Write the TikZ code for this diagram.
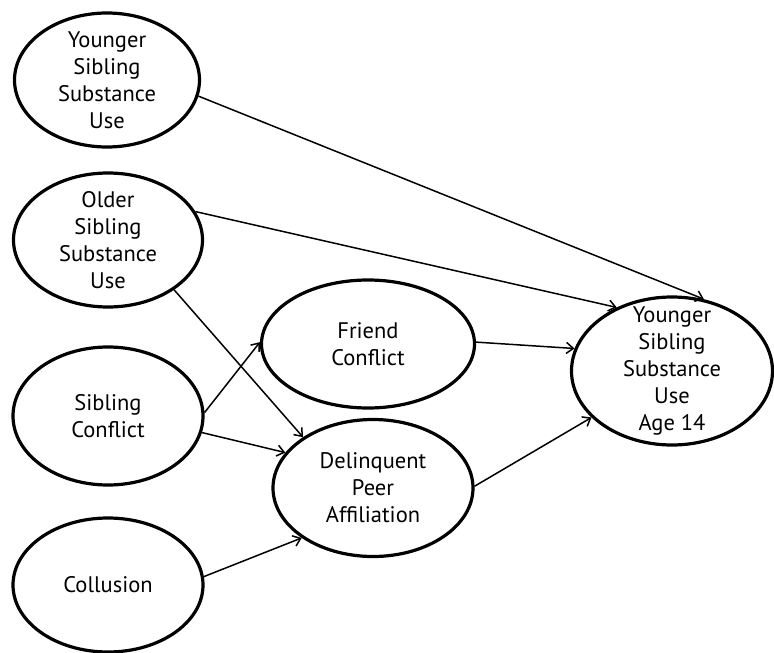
\documentclass[tikz,border=0pt]{standalone}
\usepackage{fontspec}
\setmainfont{PT Sans}
\usepackage{tikz}
\usetikzlibrary{arrows.meta,shapes.geometric}

\begin{document}
\begin{tikzpicture}[
  x=1pt, y=-1pt,
  >={Straight Barb[length=7pt,width=11pt]},
  every node/.style={font=\fontsize{22.5}{27}\selectfont},
  construct/.style={ellipse, draw, line width=3.2pt, align=center,
    inner sep=-22pt},
  path/.style={->, line width=1.5pt},
]
\useasboundingbox (0,0) rectangle (774,653);

% Exogene Variablen (links)
\node[construct, minimum width=185pt, minimum height=134pt] at (107,80) (ysib) {Younger\\Sibling\\Substance\\Use};
\node[construct, minimum width=189pt, minimum height=134pt] at (108,240) (osib) {Older\\Sibling\\Substance\\Use};
\node[construct, minimum width=190pt, minimum height=138pt] at (108,416) (sconf) {Sibling\\Conflict};
\node[construct, minimum width=190pt, minimum height=134pt] at (108,585) (coll) {Collusion};

% Mediatoren
\node[construct, minimum width=213pt, minimum height=128pt] at (368,344) (fconf) {Friend\\Conflict};
\node[construct, minimum width=200pt, minimum height=137pt] at (373,488) (dpa) {Delinquent\\Peer\\Affiliation};

% Outcome
\node[construct, minimum width=201pt, minimum height=148pt] at (672,371) (ysub14) {Younger\\Sibling\\Substance\\Use\\Age 14};

% Pfade
\draw[path] (ysib.-10) -- (ysub14.66);
\draw[path] (osib.18) -- (ysub14.131);
\draw[path] (osib.-37) -- (dpa.144);
\draw[path] (sconf.2) -- (fconf.179);
\draw[path] (sconf.-10) -- (dpa.158);
\draw[path] (coll.5) -- (dpa.-145);
\draw[path] (fconf.1) -- (ysub14.167);
\draw[path] (dpa.1) -- (ysub14.-150);

\end{tikzpicture}
\end{document}
